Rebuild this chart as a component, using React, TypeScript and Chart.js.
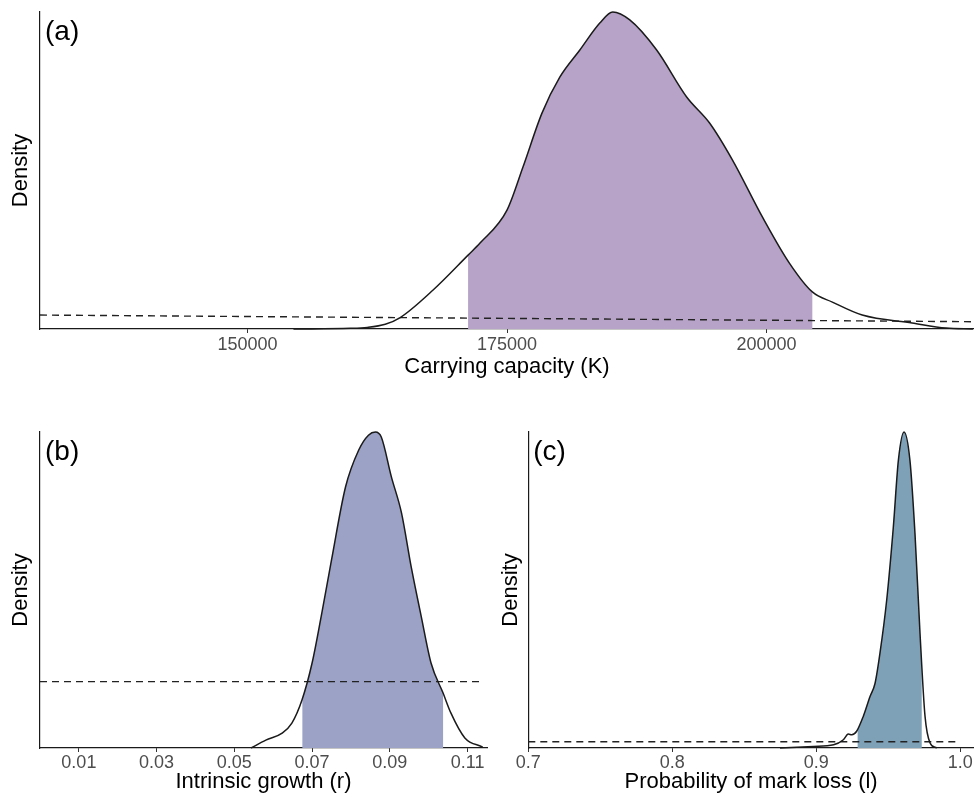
import React, { useEffect, useRef } from "react";
import { Chart, registerables } from "chart.js";

// ---------- Panel (a): carrying capacity K ----------
const kValues = [154420, 159900, 161540, 163270, 164710, 167880, 171250, 172400, 175000, 176540, 178370, 180100, 182020, 183940, 185190, 186830, 189420, 192310, 194520, 196730, 199620, 202210, 204420, 206350, 209230, 214040, 217310, 219900];
const kDensity = [0, 0.002, 0.005, 0.015, 0.036, 0.123, 0.233, 0.271, 0.375, 0.511, 0.681, 0.795, 0.88, 0.965, 1.0, 0.975, 0.88, 0.732, 0.65, 0.533, 0.353, 0.208, 0.117, 0.085, 0.044, 0.019, 0.003, 0];
const kInterval = [171250, 204420];
const kPriorX = [130000, 220000];
const kPriorY = [0.044, 0.023];
const kTickLabels = ["150000", "175000", "200000"];
const kRange = [130000, 220000];

// ---------- Panel (b): intrinsic growth r ----------
const rValues = [0.0543, 0.0581, 0.0623, 0.0648, 0.0674, 0.07, 0.0725, 0.075, 0.0786, 0.082, 0.0845, 0.0863, 0.0878, 0.0904, 0.093, 0.0955, 0.0981, 0.1006, 0.1037, 0.1057, 0.1093, 0.1139];
const rDensity = [0, 0.025, 0.047, 0.079, 0.152, 0.269, 0.427, 0.595, 0.826, 0.943, 0.99, 1.0, 0.984, 0.858, 0.744, 0.573, 0.415, 0.269, 0.174, 0.111, 0.032, 0.003];
const rInterval = [0.0675, 0.1037];
const rPriorX = [0, 0.1132];
const rPriorY = [0.21, 0.21];
const rTickLabels = ["0.01", "0.03", "0.05", "0.07", "0.09", "0.11"];
const rRange = [0, 0.115];

// ---------- Panel (c): probability of mark loss l ----------
const lValues = [0.8748, 0.898, 0.912, 0.9188, 0.9222, 0.9246, 0.928, 0.9326, 0.9373, 0.9408, 0.9442, 0.9489, 0.9535, 0.957, 0.9609, 0.965, 0.9685, 0.972, 0.9755, 0.979, 0.9836];
const lDensity = [0, 0.005, 0.01, 0.026, 0.044, 0.042, 0.053, 0.1, 0.163, 0.205, 0.3, 0.469, 0.7, 0.911, 1.0, 0.911, 0.68, 0.364, 0.1, 0.016, 0];
const lInterval = [0.9287, 0.9732];
const lPriorX = [0.7, 0.9984];
const lPriorY = [0.02, 0.02];
const lTickLabels = ["0.7", "0.8", "0.9", "1.0"];
const lRange = [0.7, 1.0095];

const FONT = "'Liberation Sans', Arial, Helvetica, sans-serif";

// Clips the shaded (credible-interval) dataset to its x range. Registered before the
// Filler plugin so that the clip is active when the fill is drawn.
const ciClipPlugin = {
  id: "ciClip",
  beforeDatasetDraw(chart: any, args: any, opts: any) {
    if (!opts || !opts.range || args.index !== opts.datasetIndex) return;
    const { ctx, chartArea, scales } = chart;
    const x0 = scales.x.getPixelForValue(opts.range[0]);
    const x1 = scales.x.getPixelForValue(opts.range[1]);
    ctx.save();
    ctx.beginPath();
    ctx.rect(x0, chartArea.top - 2, x1 - x0, chartArea.bottom - chartArea.top + 2);
    ctx.clip();
  },
  afterDatasetDraw(chart: any, args: any, opts: any) {
    if (!opts || !opts.range || args.index !== opts.datasetIndex) return;
    chart.ctx.restore();
  },
};

const panelLabelPlugin = {
  id: "panelLabel",
  afterDraw(chart: any, _args: any, opts: any) {
    if (!opts || !opts.text) return;
    const { ctx, chartArea } = chart;
    ctx.save();
    ctx.font = `${opts.size}px ${FONT}`;
    ctx.fillStyle = "#000";
    ctx.textAlign = "left";
    ctx.textBaseline = "alphabetic";
    ctx.fillText(opts.text, chartArea.left + 5, chartArea.top + 28);
    ctx.restore();
  },
};

Chart.register(ciClipPlugin, ...registerables, panelLabelPlugin);

type Spec = {
  left: number;
  top: number;
  width: number;
  height: number;
  xs: number[];
  ys: number[];
  interval: number[];
  priorX: number[];
  priorY: number[];
  tickLabels: string[];
  range: number[];
  fill: string;
  xTitle: string;
  label: string;
  padTop: number;
  padRight: number;
  yWidth: number;
  xHeight: number;
  xTitlePad: number;
  yTitlePad: number;
  tickPad: number;
};

function buildConfig(s: Spec): any {
  const pts = s.xs.map((x, i) => ({ x, y: s.ys[i] }));
  const prior = s.priorX.map((x, i) => ({ x, y: s.priorY[i] }));
  const tickValues = s.tickLabels.map(Number);
  return {
    type: "line",
    data: {
      datasets: [
        {
          label: "interval",
          data: pts,
          fill: "origin",
          backgroundColor: s.fill,
          borderWidth: 0,
          borderColor: "rgba(0,0,0,0)",
          pointRadius: 0,
          cubicInterpolationMode: "monotone",
          order: 3,
        },
        {
          label: "prior",
          data: prior,
          fill: false,
          borderColor: "#222222",
          borderWidth: 1.4,
          borderDash: [7, 5],
          pointRadius: 0,
          order: 2,
        },
        {
          label: "posterior",
          data: pts,
          fill: false,
          borderColor: "#1a1a1a",
          borderWidth: 1.5,
          pointRadius: 0,
          cubicInterpolationMode: "monotone",
          clip: 3,
          order: 1,
        },
      ],
    },
    options: {
      animation: false,
      responsive: false,
      events: [],
      layout: { padding: { top: s.padTop, right: s.padRight, left: 0, bottom: 0 } },
      plugins: {
        legend: { display: false },
        tooltip: { enabled: false },
        ciClip: { datasetIndex: 0, range: s.interval },
        panelLabel: { text: s.label, size: 28 },
      },
      scales: {
        x: {
          type: "linear",
          min: s.range[0],
          max: s.range[1],
          afterBuildTicks: (scale: any) => {
            scale.ticks = tickValues.map((v) => ({ value: v }));
          },
          afterFit: (scale: any) => {
            scale.height = s.xHeight;
          },
          ticks: {
            callback: (v: number) => s.tickLabels[tickValues.indexOf(v)] ?? "",
            color: "#4d4d4d",
            font: { family: FONT, size: 18 },
            padding: s.tickPad,
            maxRotation: 0,
            autoSkip: false,
          },
          grid: {
            display: true,
            drawOnChartArea: false,
            drawTicks: true,
            tickLength: 4,
            color: "#333333",
            lineWidth: 1,
          },
          border: { display: true, color: "#1a1a1a", width: 1.2 },
          title: {
            display: true,
            text: s.xTitle,
            color: "#000",
            font: { family: FONT, size: 22 },
            padding: { top: 0, bottom: s.xTitlePad },
          },
        },
        y: {
          type: "linear",
          min: 0,
          max: 1,
          afterFit: (scale: any) => {
            scale.width = s.yWidth;
          },
          ticks: { display: false },
          grid: { display: false },
          border: { display: true, color: "#1a1a1a", width: 1.2 },
          title: {
            display: true,
            text: "Density",
            color: "#000",
            font: { family: FONT, size: 22 },
            padding: { top: s.yTitlePad, bottom: 0 },
          },
        },
      },
    },
  };
}

function DensityPanel({ spec }: { spec: Spec }) {
  const ref = useRef<HTMLCanvasElement | null>(null);
  useEffect(() => {
    if (!ref.current) return;
    const chart = new Chart(ref.current, buildConfig(spec));
    return () => chart.destroy();
  }, [spec]);
  return (
    <div
      style={{
        position: "absolute",
        left: spec.left,
        top: spec.top,
        width: spec.width,
        height: spec.height,
      }}
    >
      <canvas
        ref={ref}
        width={spec.width}
        height={spec.height}
        style={{ display: "block", width: spec.width, height: spec.height }}
      />
    </div>
  );
}

const specA: Spec = {
  left: 0, top: 0, width: 974, height: 390,
  xs: kValues, ys: kDensity, interval: kInterval, priorX: kPriorX, priorY: kPriorY,
  tickLabels: kTickLabels, range: kRange, fill: "#b6a3c7",
  xTitle: "Carrying capacity (K)", label: "(a)",
  padTop: 12, padRight: 0, yWidth: 40, xHeight: 61, xTitlePad: 10, yTitlePad: 7.5, tickPad: 1,
};

const specB: Spec = {
  left: 0, top: 400, width: 492, height: 396,
  xs: rValues, ys: rDensity, interval: rInterval, priorX: rPriorX, priorY: rPriorY,
  tickLabels: rTickLabels, range: rRange, fill: "#9ba2c5",
  xTitle: "Intrinsic growth (r)", label: "(b)",
  padTop: 32, padRight: 5, yWidth: 40, xHeight: 48, xTitlePad: 1.3, yTitlePad: 7.5, tickPad: 0,
};

const specC: Spec = {
  left: 492, top: 400, width: 482, height: 396,
  xs: lValues, ys: lDensity, interval: lInterval, priorX: lPriorX, priorY: lPriorY,
  tickLabels: lTickLabels, range: lRange, fill: "#7fa1b8",
  xTitle: "Probability of mark loss (l)", label: "(c)",
  padTop: 32, padRight: 0, yWidth: 36.3, xHeight: 48, xTitlePad: 1.3, yTitlePad: 5.5, tickPad: 0,
};

export default function App() {
  return (
    <div
      style={{
        position: "absolute",
        left: 0,
        top: 0,
        width: 974,
        height: 793,
        overflow: "hidden",
        background: "#ffffff",
      }}
    >
      <DensityPanel spec={specA} />
      <DensityPanel spec={specB} />
      <DensityPanel spec={specC} />
    </div>
  );
}
